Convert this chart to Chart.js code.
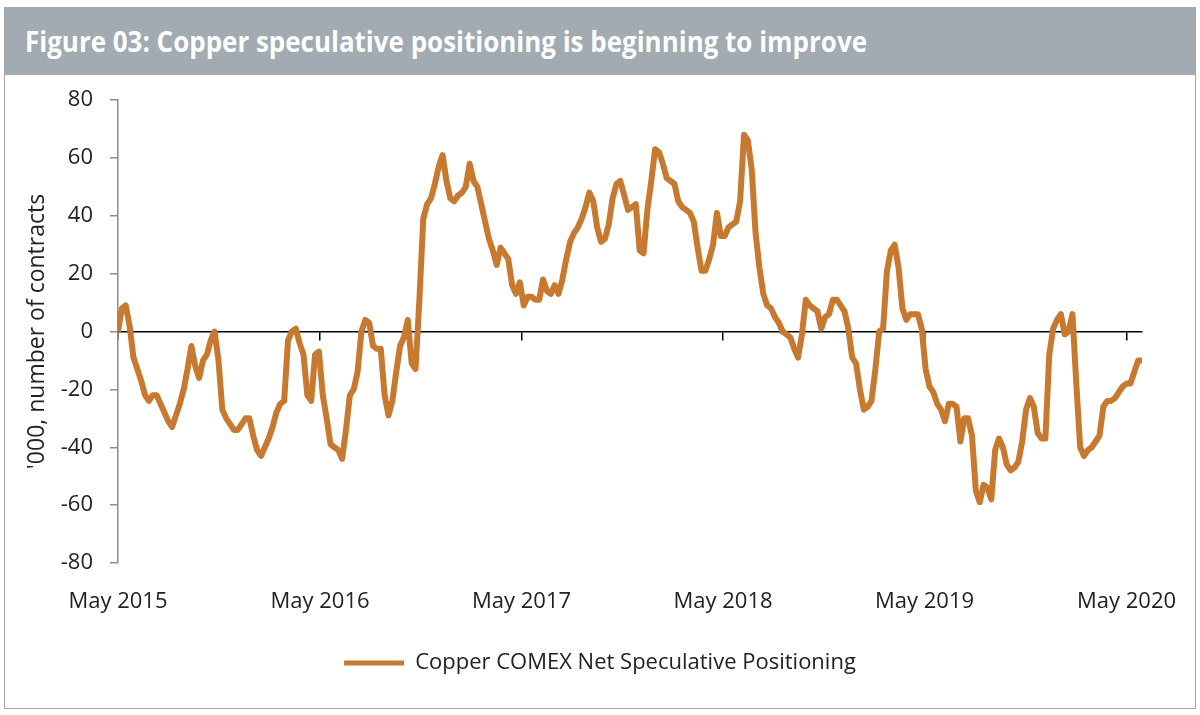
<!DOCTYPE html>
<html>
<head>
<meta charset="utf-8">
<title>Figure 03: Copper speculative positioning</title>
<script src="https://cdn.jsdelivr.net/npm/chart.js@4.4.1/dist/chart.umd.min.js"></script>
<style>
  html, body { margin: 0; padding: 0; background: #fff; }
  #frame {
    position: absolute; left: 4px; top: 7px; width: 1190px; height: 700px;
    border: 1px solid #a4a4a4;
  }
  #titleBar {
    position: absolute; left: 4px; top: 7px; width: 1192px; height: 68px;
    background: #a2aab2; display: flex; align-items: center; overflow: hidden;
  }
  #titleText {
    margin-left: 21px; color: #fff; font: bold 28px 'Open Sans', sans-serif;
    white-space: nowrap; transform-origin: left center; display: inline-block;
  }
  #chart { position: absolute; left: 0; top: 0; }
</style>
</head>
<body>
<div id="frame"></div>
<div id="titleBar"><span id="titleText">Figure 03: Copper speculative positioning is beginning to improve</span></div>
<canvas id="chart" width="1200" height="715"></canvas>
<script>
// weekly net speculative positions, '000 contracts, first week of May 2015 onwards
const startDate = new Date(2015, 4, 5)
const netPositions = [
  0, 8, 9, 2, -9, -13, -17, -22, -24, -22,
  -22, -25, -28, -31, -33, -29, -25, -20, -13, -5,
  -12, -16, -10, -8, -3, 0, -10, -27, -30, -32,
  -34, -34, -32, -30, -30, -36, -41, -43, -40, -37,
  -33, -28, -25, -24, -3, 0, 1, -4, -8, -22,
  -24, -8, -7, -22, -30, -39, -40, -41, -44, -34,
  -22, -20, -14, 0, 4, 3, -5, -6, -6, -22,
  -29, -24, -14, -5, -2, 4, -11, -13, 11, 39,
  44, 46, 51, 57, 61, 52, 46, 45, 47, 48,
  50, 58, 52, 50, 44, 38, 32, 28, 23, 29,
  27, 25, 16, 13, 17, 9, 12, 12, 11, 11,
  18, 14, 13, 16, 13, 18, 25, 31, 34, 36,
  39, 43, 48, 45, 36, 31, 32, 37, 46, 51,
  52, 47, 42, 43, 44, 28, 27, 42, 52, 63,
  62, 58, 53, 52, 51, 45, 43, 42, 41, 38,
  29, 21, 21, 25, 30, 41, 33, 33, 36, 37,
  38, 45, 68, 66, 56, 34, 22, 13, 9, 8,
  5, 3, 0, -1, -2, -6, -9, -1, 11, 9,
  8, 7, 1, 5, 6, 11, 11, 9, 7, 1,
  -9, -11, -20, -27, -26, -24, -13, 0, 1, 21,
  28, 30, 22, 8, 4, 6, 6, 6, 1, -13,
  -19, -21, -25, -27, -31, -25, -25, -26, -38, -30,
  -30, -36, -55, -59, -53, -54, -58, -41, -37, -40,
  -46, -48, -47, -45, -38, -27, -23, -26, -35, -37,
  -37, -8, 1, 4, 6, -1, 0, 6, -18, -40,
  -43, -41, -40, -38, -36, -26, -24, -24, -23, -21,
  -19, -18, -18, -14, -10, -10
]
const tickYears = [2015, 2016, 2017, 2018, 2019, 2020]
const tickLabels = ['May 2015', 'May 2016', 'May 2017', 'May 2018', 'May 2019', 'May 2020']
const seriesName = 'Copper COMEX Net Speculative Positioning'

// fit the title to the width it has in the figure
const titleText = document.getElementById('titleText')
titleText.style.transform = 'scaleX(' + (842 / titleText.getBoundingClientRect().width) + ')'

const weekMs = 7 * 24 * 3600 * 1000
const mayWeeks = tickYears.map(y => (new Date(y, 4, 5) - startDate) / weekMs)
const points = netPositions.map((v, i) => ({ x: i, y: v }))
const lineColor = '#c77a2f'

Chart.defaults.font.family = "'Open Sans', sans-serif"
Chart.defaults.color = '#222'

const xRange = { min: 0, max: netPositions.length - 1 }
const setMayTicks = scale => { scale.ticks = mayWeeks.map(v => ({ value: v })) }

new Chart(document.getElementById('chart'), {
  type: 'line',
  data: {
    datasets: [{
      label: seriesName,
      data: points,
      xAxisID: 'x',
      yAxisID: 'y',
      borderColor: lineColor,
      backgroundColor: lineColor,
      borderWidth: 6,
      pointRadius: 0,
      tension: 0,
      borderJoinStyle: 'round'
    }]
  },
  options: {
    responsive: false,
    devicePixelRatio: 1,
    animation: false,
    layout: { padding: { left: 34, right: 34, top: 100, bottom: 31 } },
    plugins: {
      tooltip: { enabled: false },
      legend: {
        position: 'bottom',
        labels: {
          boxWidth: 60,
          boxHeight: 5,
          font: { size: 22 },
          color: '#222',
          generateLabels: chart => {
            const items = Chart.defaults.plugins.legend.labels.generateLabels(chart)
            items.forEach(it => { it.lineWidth = 0 })
            return items
          }
        }
      }
    },
    scales: {
      // axis line through zero with the May tick marks
      x: {
        type: 'linear',
        ...xRange,
        position: { y: 0 },
        afterBuildTicks: setMayTicks,
        ticks: { display: false },
        grid: { drawOnChartArea: false, drawTicks: true, tickLength: 8, color: '#000', lineWidth: 1.5 },
        border: { display: true, color: '#000', width: 1.5 }
      },
      // labels at the bottom
      xLabels: {
        type: 'linear',
        ...xRange,
        position: 'bottom',
        afterBuildTicks: setMayTicks,
        afterFit: scale => { scale.height = 79; scale.paddingLeft = 0; scale.paddingRight = 0 },
        ticks: {
          padding: 26,
          font: { size: 22 },
          color: '#222',
          autoSkip: false,
          maxRotation: 0,
          callback: (v, i) => tickLabels[i]
        },
        grid: { display: false, drawTicks: false },
        border: { display: false }
      },
      y: {
        min: -80,
        max: 80,
        position: 'left',
        afterFit: scale => { scale.width = 84 },
        ticks: { stepSize: 20, padding: 17, font: { size: 22 }, color: '#222' },
        grid: { drawOnChartArea: false, drawTicks: true, tickLength: 8, color: '#8c8c8c', lineWidth: 1.5 },
        border: { display: true, color: '#8c8c8c', width: 1.5 },
        title: {
          display: true,
          text: "'000, number of contracts",
          font: { size: 23 },
          color: '#222',
          padding: { top: -10, bottom: 0 }
        }
      },
      // empty spacer so the legend centres on the page like the original
      yRight: {
        position: 'right',
        afterFit: scale => { scale.width = 24 },
        ticks: { display: false },
        grid: { display: false },
        border: { display: false }
      }
    }
  }
})
</script>
</body>
</html>
